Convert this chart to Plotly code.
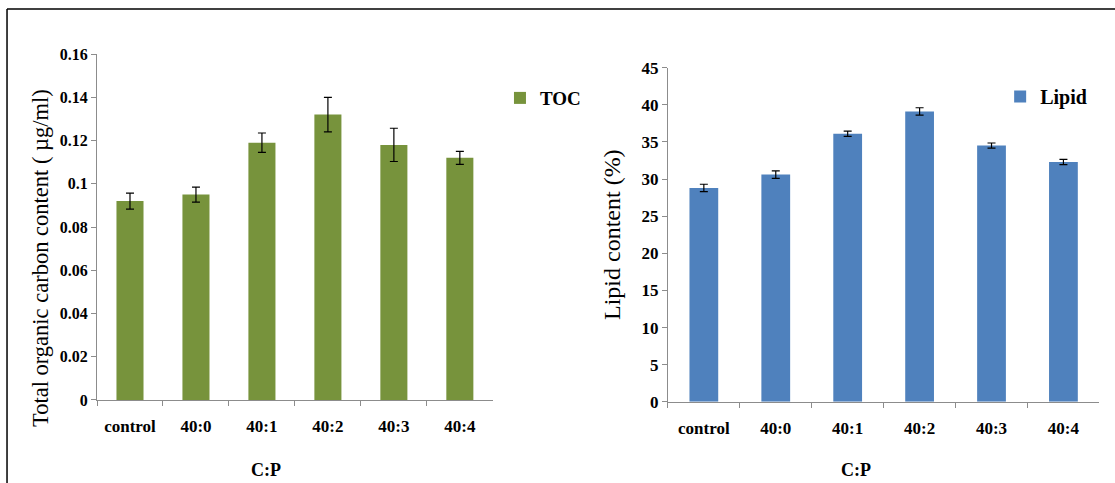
import plotly.graph_objects as go

# C:P ratio treatments
categories = ["control", "40:0", "40:1", "40:2", "40:3", "40:4"]

# Total organic carbon (µg/ml) with standard error
toc_values = [0.092, 0.095, 0.119, 0.132, 0.118, 0.112]
toc_errors = [0.0037, 0.0035, 0.0045, 0.008, 0.0077, 0.003]

# Lipid content (%) with standard error
lipid_values = [28.8, 30.6, 36.1, 39.1, 34.5, 32.3]
lipid_errors = [0.5, 0.5, 0.35, 0.5, 0.35, 0.35]

GREEN = "#77933C"
BLUE = "#4F81BD"
AXIS_GREY = "#8C8C8C"
SERIF = "Times New Roman, Liberation Serif, serif"


def bold_font(size):
    return dict(family=SERIF, size=size, color="black", weight="bold")


fig = go.Figure()

fig.add_trace(go.Bar(
    x=categories, y=toc_values, name="TOC",
    marker=dict(color=GREEN, line=dict(width=0)),
    width=0.41,
    error_y=dict(type="data", array=toc_errors, color="black", thickness=1.2, width=4),
    xaxis="x", yaxis="y", legend="legend",
))

fig.add_trace(go.Bar(
    x=categories, y=lipid_values, name="Lipid",
    marker=dict(color=BLUE, line=dict(width=0)),
    width=0.4,
    error_y=dict(type="data", array=lipid_errors, color="black", thickness=1.2, width=4),
    xaxis="x2", yaxis="y2", legend="legend2",
))

common_x = dict(
    type="category", tickson="boundaries", ticks="outside", ticklen=5,
    tickcolor=AXIS_GREY, showline=True, linecolor=AXIS_GREY, linewidth=1,
    showgrid=False, tickfont=bold_font(17), zeroline=False, automargin=False,
    ticklabelstandoff=11,
)
common_y = dict(
    ticks="outside", ticklen=5, tickcolor=AXIS_GREY, showline=True,
    linecolor=AXIS_GREY, linewidth=1, showgrid=False, zeroline=False,
    automargin=False,
)

fig.update_layout(
    width=1115, height=483,
    margin=dict(l=0, r=0, t=0, b=0),
    paper_bgcolor="white", plot_bgcolor="white",
    xaxis=dict(**common_x, domain=[0.087, 0.442], anchor="y"),
    yaxis=dict(**common_y, domain=[0.172, 0.888], anchor="x", range=[0, 0.16],
               dtick=0.02, tickformat="~g", tickfont=bold_font(16)),
    xaxis2=dict(**common_x, domain=[0.599, 0.986], anchor="y2"),
    yaxis2=dict(**common_y, domain=[0.168, 0.86], anchor="x2", range=[0, 45], dtick=5,
                tickfont=bold_font(17)),
    legend=dict(x=0.4484, y=0.797, xanchor="left", yanchor="middle",
                font=bold_font(19), bgcolor="rgba(0,0,0,0)", itemwidth=30),
    legend2=dict(x=0.897, y=0.8, xanchor="left", yanchor="middle",
                 font=bold_font(20), bgcolor="rgba(0,0,0,0)", itemwidth=30),
    showlegend=True,
)

# Axis titles
axis_titles = [
    dict(text="<b>C:P</b>", x=266 / 1115, y=1 - 470 / 483, size=18, angle=0),
    dict(text="<b>C:P</b>", x=856 / 1115, y=1 - 470 / 483, size=18, angle=0),
    dict(text="Total organic carbon content ( µg/ml)", x=40 / 1115, y=1 - 258 / 483, size=22.5, angle=-90),
    dict(text="Lipid content (%)", x=612 / 1115, y=1 - 235 / 483, size=24, angle=-90),
]
for t in axis_titles:
    fig.add_annotation(
        text=t["text"], x=t["x"], y=t["y"], xref="paper", yref="paper",
        xanchor="center", yanchor="middle", showarrow=False, textangle=t["angle"],
        font=dict(family=SERIF, size=t["size"], color="black"),
    )

# Outer frame lines along the top and left edges
fig.add_shape(type="line", xref="paper", yref="paper", x0=0.0063, x1=1, y0=0.9814, y1=0.9814,
              line=dict(color="black", width=1.5))
fig.add_shape(type="line", xref="paper", yref="paper", x0=0.0063, x1=0.0063, y0=0, y1=0.9814,
              line=dict(color="black", width=1.5))

fig.write_html("out.html")
